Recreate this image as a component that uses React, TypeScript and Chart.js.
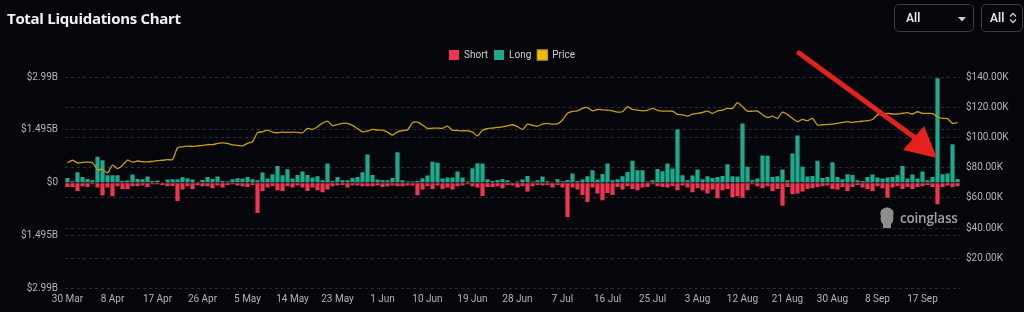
import React, { useEffect, useRef } from 'react';
import { Chart, registerables } from 'chart.js';

Chart.register(...registerables);

// ---- data ----
const START_DAY = { year: 2025, month: 2, day: 30 }; // 30 Mar
const DAY_COUNT = 179;
const MONTHS = ['Jan', 'Feb', 'Mar', 'Apr', 'May', 'Jun', 'Jul', 'Aug', 'Sep', 'Oct', 'Nov', 'Dec'];
const LABEL_EVERY = 9;

// long liquidations, millions USD
const LONG_M = [
  137, 43, 298, 165, 109, 71, 732, 638, 213, 213,
  213, 52, 61, 232, 109, 99, 175, 52, 61, 14,
  90, 99, 99, 156, 128, 90, 24, 80, 165, 109,
  175, 52, 33, 99, 128, 118, 165, 99, 71, 288,
  118, 241, 477, 213, 383, 118, 222, 317, 222, 146,
  184, 71, 543, 52, 165, 71, 71, 137, 165, 298,
  799, 222, 90, 71, 71, 137, 865, 71, 33, 33,
  52, 128, 203, 591, 562, 118, 146, 146, 317, 146,
  33, 411, 553, 543, 99, 52, 80, 109, 71, 14,
  33, 90, 194, 33, 71, 175, 43, 14, 99, 43,
  80, 260, 52, 90, 184, 354, 90, 250, 543, 71,
  99, 184, 307, 619, 354, 354, 33, 71, 392, 326,
  543, 402, 1507, 213, 71, 203, 373, 99, 184, 137,
  165, 194, 524, 184, 175, 1677, 449, 71, 118, 770,
  761, 165, 184, 373, 71, 827, 1337, 449, 175, 194,
  619, 137, 165, 581, 165, 99, 241, 222, 71, 52,
  165, 232, 146, 118, 146, 165, 213, 477, 118, 232,
  118, 317, 71, 165, 2953, 241, 260, 1091, 109,
];

// short liquidations, millions USD (drawn downward)
const SHORT_M = [
  118, 118, 232, 99, 118, 43, 137, 364, 137, 383,
  99, 175, 175, 99, 99, 80, 118, 43, 43, 61,
  99, 90, 515, 194, 99, 175, 71, 99, 99, 156,
  80, 137, 61, 43, 80, 99, 118, 61, 855, 232,
  137, 99, 213, 232, 99, 137, 80, 137, 232, 137,
  213, 269, 194, 99, 80, 61, 137, 80, 80, 99,
  99, 99, 80, 118, 99, 80, 99, 99, 80, 80,
  354, 194, 99, 175, 80, 175, 137, 194, 99, 80,
  43, 99, 137, 373, 118, 118, 99, 156, 61, 80,
  137, 99, 250, 99, 61, 80, 61, 137, 61, 137,
  969, 137, 194, 345, 543, 137, 307, 496, 288, 345,
  118, 194, 99, 175, 213, 137, 118, 43, 99, 118,
  137, 99, 213, 80, 137, 269, 156, 213, 307, 194,
  439, 213, 175, 402, 383, 421, 213, 43, 99, 156,
  99, 232, 175, 647, 118, 326, 307, 250, 175, 156,
  118, 99, 80, 175, 194, 118, 232, 118, 61, 137,
  175, 232, 99, 156, 421, 137, 99, 175, 118, 175,
  118, 99, 61, 118, 610, 118, 80, 118, 99,
];

// BTC price, thousands USD
const PRICE_K = [
  83.1, 84.9, 83.1, 83.4, 83.6, 83.2, 78.7, 78.9, 76.5, 81.6,
  79.4, 81.6, 84.9, 83.6, 84.4, 83.9, 83.8, 84.2, 84.6, 84.9,
  85.3, 85.4, 93.0, 93.8, 94.2, 94.1, 94.4, 94.7, 95.3, 95.2,
  96.0, 96.4, 96.0, 95.0, 94.8, 94.4, 96.0, 97.1, 103.2, 103.7,
  104.8, 103.5, 103.1, 103.5, 103.3, 103.5, 103.3, 103.1, 106.0, 105.3,
  107.0, 109.5, 110.8, 107.8, 108.5, 109.3, 109.3, 108.0, 105.8, 103.7,
  104.2, 105.3, 104.9, 104.8, 103.5, 101.5, 103.7, 104.5, 105.0, 109.7,
  110.1, 108.2, 106.0, 106.1, 106.2, 106.0, 107.5, 104.8, 104.6, 104.4,
  104.4, 103.5, 101.0, 104.8, 105.8, 106.2, 106.6, 107.0, 107.6, 108.4,
  107.1, 105.3, 108.8, 108.0, 107.5, 108.8, 109.3, 108.8, 109.0, 111.5,
  116.0, 117.2, 117.6, 119.2, 119.8, 117.6, 118.5, 118.3, 118.1, 117.6,
  116.8, 117.0, 120.3, 118.5, 118.1, 117.6, 117.9, 119.2, 117.9, 117.4,
  117.4, 117.4, 115.2, 115.0, 114.1, 115.5, 115.9, 116.5, 117.4, 115.9,
  117.5, 118.1, 119.2, 119.2, 123.0, 120.3, 117.4, 117.4, 117.4, 115.0,
  113.2, 114.1, 112.6, 116.8, 115.1, 112.5, 110.4, 111.9, 111.1, 112.6,
  108.2, 108.4, 108.6, 108.8, 109.3, 109.9, 110.4, 110.0, 110.4, 110.7,
  111.1, 111.9, 114.9, 115.3, 115.9, 115.5, 115.5, 116.0, 116.4, 115.5,
  117.0, 115.9, 115.9, 115.8, 113.7, 112.6, 112.4, 109.3, 109.8,
];

const LEFT_TICKS_M = [-2990, -1495, 0, 1495, 2990];
const RIGHT_TICKS_K = [0, 20, 40, 60, 80, 100, 120, 140];

const SERIES_NAMES = ['Short', 'Long', 'Price'];

// ---- styles ----
const BG = '#04060b';
const RED = '#ef3550';
const TEAL = '#1fa98c';
const GOLD_FILL = '#f0b90b';
const GOLD_LINE = '#c99e0e';
const GRID = '#2a2d34';
const TICK_COLOR = '#b4b4b4';
const TICK_FONT = { family: 'Roboto, "Liberation Sans", sans-serif', size: 10 };

function buildDayLabels(): string[] {
  const out: string[] = [];
  const d = new Date(Date.UTC(START_DAY.year, START_DAY.month, START_DAY.day));
  for (let i = 0; i < DAY_COUNT; i++) {
    out.push(`${d.getUTCDate()} ${MONTHS[d.getUTCMonth()]}`);
    d.setUTCDate(d.getUTCDate() + 1);
  }
  return out;
}

const legendSpacer = {
  id: 'legendSpacer',
  beforeInit(chart: any) {
    const legend = chart.legend;
    if (!legend) return;
    const orig = legend.fit;
    legend.fit = function fit() {
      orig.call(this);
      this.height += 7;
    };
  },
};

function LiquidationChart() {
  const ref = useRef<HTMLCanvasElement | null>(null);

  useEffect(() => {
    if (!ref.current) return;
    const labels = buildDayLabels();
    const chart = new Chart(ref.current, {
      type: 'bar',
      data: {
        labels,
        datasets: [
          {
            type: 'bar',
            label: SERIES_NAMES[0],
            data: SHORT_M.map((v) => -v),
            backgroundColor: RED,
            borderWidth: 0,
            yAxisID: 'y',
            order: 2,
            barPercentage: 0.84,
            categoryPercentage: 1,
          },
          {
            type: 'bar',
            label: SERIES_NAMES[1],
            data: LONG_M,
            backgroundColor: TEAL,
            borderWidth: 0,
            yAxisID: 'y',
            order: 2,
            barPercentage: 0.84,
            categoryPercentage: 1,
          },
          {
            type: 'line',
            label: SERIES_NAMES[2],
            data: PRICE_K,
            borderColor: GOLD_LINE,
            backgroundColor: GOLD_FILL,
            borderWidth: 1.3,
            pointRadius: 0,
            tension: 0.25,
            yAxisID: 'y1',
            order: 0,
          },
        ],
      } as any,
      options: {
        responsive: false,
        animation: false,
        layout: { padding: { top: 44, left: 0, right: 0, bottom: 0 } },
        plugins: {
          legend: {
            display: true,
            position: 'top',
            labels: {
              color: '#cfcfcf',
              font: { family: 'Roboto, "Liberation Sans", sans-serif', size: 10 },
              boxWidth: 10,
              boxHeight: 10,
              padding: 6,
              sort: (a: any, b: any) => a.datasetIndex - b.datasetIndex,
            },
          },
          tooltip: { enabled: false },
        },
        scales: {
          x: {
            stacked: true,
            offset: true,
            grid: { display: false, drawTicks: false },
            border: { display: false },
            afterFit: (axis: any) => {
              axis.height = 23.5;
            },
            ticks: {
              autoSkip: false,
              maxRotation: 0,
              minRotation: 0,
              padding: 5,
              color: TICK_COLOR,
              font: TICK_FONT,
              callback: (_v: any, idx: number) => (idx % LABEL_EVERY === 0 ? labels[idx] : ''),
            },
          },
          y: {
            position: 'left',
            stacked: true,
            min: LEFT_TICKS_M[0],
            max: LEFT_TICKS_M[LEFT_TICKS_M.length - 1],
            afterBuildTicks: (axis: any) => {
              axis.ticks = LEFT_TICKS_M.map((value) => ({ value }));
            },
            afterFit: (axis: any) => {
              axis.width = 65;
            },
            grid: { color: GRID, drawTicks: false, lineWidth: 1 },
            border: { display: false, dash: [3, 3] },
            ticks: {
              padding: 7,
              color: TICK_COLOR,
              font: TICK_FONT,
              callback: (v: any) => (Number(v) === 0 ? '$0' : `$${Math.abs(Number(v)) / 1000}B`),
            },
          },
          y1: {
            position: 'right',
            min: RIGHT_TICKS_K[0],
            max: RIGHT_TICKS_K[RIGHT_TICKS_K.length - 1],
            afterBuildTicks: (axis: any) => {
              axis.ticks = RIGHT_TICKS_K.map((value) => ({ value }));
            },
            afterFit: (axis: any) => {
              axis.width = 64;
            },
            grid: { color: GRID, drawTicks: false, lineWidth: 1 },
            border: { display: false, dash: [3, 3] },
            ticks: {
              padding: 6,
              color: TICK_COLOR,
              font: TICK_FONT,
              callback: (v: any) => (Number(v) === 0 ? '' : `$${Number(v).toFixed(2)}K`),
            },
          },
        },
      } as any,
      plugins: [legendSpacer],
    });
    return () => chart.destroy();
  }, []);

  return <canvas ref={ref} width={1024} height={312} style={{ position: 'absolute', left: 0, top: 0 }} />;
}

function Select({ left, width, chevrons }: { left: number; width: number; chevrons?: boolean }) {
  return (
    <div
      style={{
        position: 'absolute',
        left,
        top: 4,
        width,
        height: 28,
        boxSizing: 'border-box',
        border: '1px solid #3a3c43',
        borderRadius: 5,
        color: '#e2e2e2',
        font: '600 12px Roboto, "Liberation Sans", sans-serif',
        lineHeight: '26px',
        paddingLeft: chevrons ? 8 : 11,
      }}
    >
      All
      {chevrons ? (
        <svg width="8" height="12" viewBox="0 0 8 12" style={{ position: 'absolute', left: 27, top: 7 }}>
          <polyline points="1,4.5 4,1.5 7,4.5" fill="none" stroke="#cfcfcf" strokeWidth="1.3" />
          <polyline points="1,7.5 4,10.5 7,7.5" fill="none" stroke="#cfcfcf" strokeWidth="1.3" />
        </svg>
      ) : (
        <svg width="8" height="5" viewBox="0 0 8 5" style={{ position: 'absolute', left: 63, top: 12 }}>
          <polygon points="0,0 8,0 4,4.5" fill="#cfcfcf" />
        </svg>
      )}
    </div>
  );
}

export default function App() {
  useEffect(() => {
    document.body.style.margin = '0';
    document.body.style.background = BG;
  }, []);

  return (
    <div style={{ position: 'fixed', left: 0, top: 0, width: 1024, height: 312, background: BG, overflow: 'hidden' }}>
      <LiquidationChart />
      <div
        style={{
          position: 'absolute',
          left: 7,
          top: 8,
          color: '#f2f2f2',
          font: '700 15px "Open Sans", "Liberation Sans", sans-serif',
          letterSpacing: '-0.3px',
          lineHeight: '20px',
        }}
      >
        Total Liquidations Chart
      </div>
      <Select left={894} width={80} />
      <Select left={981} width={42} chevrons />
      <svg width="16" height="22" viewBox="0 0 16 22" style={{ position: 'absolute', left: 879, top: 207 }}>
        <path
          d="M4 2 C6 0 10 0 12 2 C15 3 15 7 14 9 C15 12 14 16 12 17 L12 21 L4 21 L4 17 C2 16 1 12 2 9 C1 7 1 3 4 2 Z"
          fill="#8e8e8e"
        />
      </svg>
      <div
        style={{
          position: 'absolute',
          left: 900,
          top: 209,
          color: '#a3a3a3',
          font: '600 13.5px "Open Sans", Roboto, sans-serif',
          letterSpacing: '-0.2px',
          lineHeight: '18px',
        }}
      >
        coinglass
      </div>
      <svg width="1024" height="312" style={{ position: 'absolute', left: 0, top: 0, pointerEvents: 'none' }}>
        <line x1="799" y1="53" x2="918" y2="140" stroke="#e3211f" strokeWidth="5" strokeLinecap="round" />
        <polygon points="937,158 903,150 924,126" fill="#e3211f" />
      </svg>
    </div>
  );
}
